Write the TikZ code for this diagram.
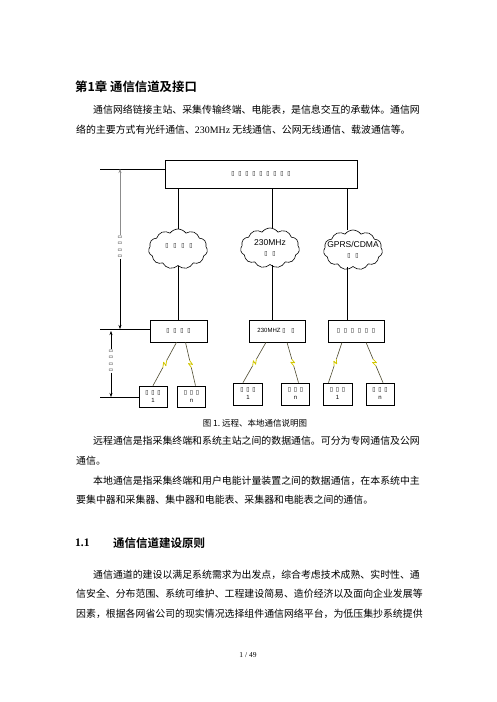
\documentclass[tikz,border=0pt]{standalone}
\usepackage{fontspec}
\setmainfont{Liberation Serif}
\newfontfamily\cjk{Noto Sans CJK SC}[BoldFont={Noto Sans CJK SC Bold}]
\newfontfamily\symfnt{DejaVu Sans}
\newfontfamily\arial{Liberation Sans}
\usetikzlibrary{shapes.symbols,arrows.meta,calc}

% a missing glyph, as the page prints it
\newcommand{\tofu}[1][7pt]{\makebox[#1]{\symfnt\fontsize{6}{6}\selectfont ▯}}
% radio link with a small bolt in the middle
\newcommand{\wlink}[2]{%
  \draw[link] (#1) -- ($(#1)!0.42!(#2)$);
  \draw[link] ($(#1)!0.58!(#2)$) -- (#2);
  \draw[bolt] ($(#1)!0.42!(#2)$) -- ($(#1)!0.52!(#2)!1.8pt!90:(#2)$) -- ($(#1)!0.48!(#2)!1.8pt!-90:(#2)$) -- ($(#1)!0.58!(#2)$);}

\begin{document}
\begin{tikzpicture}[x=1pt,y=-1pt,
  txt/.style={anchor=west,inner sep=0pt,font=\cjk\fontsize{9.9}{12}\selectfont},
  wire/.style={line width=0.7pt},
  box/.style={draw,line width=0.7pt,inner sep=0pt,align=center,font=\arial\fontsize{6}{8}\selectfont},
  net/.style={cloud,cloud puffs=11,cloud puff arc=110,aspect=1.5,draw,line width=0.6pt,minimum width=59pt,minimum height=40pt,inner sep=0pt},
  ctxt/.style={inner sep=0pt,align=center,font=\arial\fontsize{8.5}{10}\selectfont},
  link/.style={draw=black!60!olive,line width=0.6pt},
  bolt/.style={draw=yellow!60!olive,line width=0.8pt,line join=round},
  dim/.style={line width=0.5pt,-{Stealth[length=4pt,width=3pt]}},
  lab/.style={fill=white,inner sep=0.5pt,align=center,font=\symfnt\fontsize{5}{6.5}\selectfont}]
\useasboundingbox (0,0) rectangle (496,702);

% page text
\node[txt,font=\cjk\bfseries\fontsize{12.4}{14}\selectfont] (ttl) at (75,87) {第1章 通信信道及接口};
\node[txt] (p1a) at (93,110) {通信网络链接主站、采集传输终端、电能表，是信息交互的承载体。通信网};
\node[txt] (p1b) at (76,130) {络的主要方式有光纤通信、{\rmfamily 230MHz} 无线通信、公网无线通信、载波通信等。};
\node[txt,anchor=center,font=\cjk\fontsize{8.5}{10}\selectfont] (cap) at (255,423) {图 1.\ 远程、本地通信说明图};
\node[txt] (p2a) at (93,441) {远程通信是指采集终端和系统主站之间的数据通信。可分为专网通信及公网};
\node[txt] (p2b) at (76,461) {通信。};
\node[txt] (p3a) at (93,481) {本地通信是指采集终端和用户电能计量装置之间的数据通信，在本系统中主};
\node[txt] (p3b) at (76,500) {要集中器和采集器、集中器和电能表、采集器和电能表之间的通信。};
\node[txt,font=\rmfamily\bfseries\fontsize{11.5}{13}\selectfont] (secn) at (75,543) {1.1};
\node[txt,font=\cjk\bfseries\fontsize{11.5}{13}\selectfont] (sect) at (113,543) {通信信道建设原则};
\node[txt] (p4a) at (93,575) {通信通道的建设以满足系统需求为出发点，综合考虑技术成熟、实时性、通};
\node[txt] (p4b) at (76,594) {信安全、分布范围、系统可维护、工程建设简易、造价经济以及面向企业发展等};
\node[txt] (p4c) at (76,614) {因素，根据各网省公司的现实情况选择组件通信网络平台，为低压集抄系统提供};
\node[txt,anchor=center,font=\rmfamily\fontsize{7.5}{9}\selectfont] (pg) at (248,655) {1 / 49};

% diagram
\node[box,minimum width=192pt,minimum height=28pt] (zz) at (261,174) {\tofu\tofu\tofu\tofu\tofu\tofu\tofu\tofu\tofu};
\node[net] (c1) at (178,249) {};
\node[net] (c2) at (270,248) {};
\node[net] (c3) at (353,250) {};
\node[ctxt] (c1t) at (179,246) {\tofu[8pt]\tofu[8pt]\tofu[8pt]\tofu[8pt]};
\node[ctxt] (c2t) at (270,248) {230MHz\\\tofu[8pt]\tofu[8pt]};
\node[ctxt] (c3t) at (353,250) {GPRS/CDMA\\\tofu[8pt]\tofu[8pt]};
\node[box,minimum width=57pt,minimum height=22pt] (m1) at (178.5,331) {\tofu\tofu\tofu\tofu};
\node[box,minimum width=56pt,minimum height=22pt] (m2) at (277,331) {230MHZ\tofu\hspace{2pt}\tofu};
\node[box,minimum width=56pt,minimum height=22pt] (m3) at (356,331) {\tofu\tofu\tofu\tofu\tofu\tofu};
\node[box,minimum width=28pt,minimum height=21pt] (b1) at (153,396.5) {\tofu[6pt]\tofu[6pt]\tofu[6pt]\\1};
\node[box,minimum width=28pt,minimum height=21pt] (b2) at (191.5,396.5) {\tofu[6pt]\tofu[6pt]\tofu[6pt]\\n};
\node[box,minimum width=29pt,minimum height=22pt] (b3) at (248,394) {\tofu[6pt]\tofu[6pt]\tofu[6pt]\\1};
\node[box,minimum width=28pt,minimum height=22pt] (b4) at (295.5,394) {\tofu[6pt]\tofu[6pt]\tofu[6pt]\\n};
\node[box,minimum width=29pt,minimum height=22pt] (b5) at (337.5,394) {\tofu[6pt]\tofu[6pt]\tofu[6pt]\\1};
\node[box,minimum width=28pt,minimum height=22pt] (b6) at (380,394) {\tofu[6pt]\tofu[6pt]\tofu[6pt]\\n};

\coordinate (k1) at (178,0);
\coordinate (k2) at (272,0);
\coordinate (k3) at (347,0);
\draw[wire] (zz.south -| k1) -- (c1.north -| k1);
\draw[wire] (zz.south -| k2) -- (c2.north -| k2);
\draw[wire] (zz.south -| k3) -- (c3.north -| k3);
\draw[wire] (c1.south -| k1) -- (m1.north -| k1);
\draw[wire] (c2.south -| k2) -- (m2.north -| k2);
\draw[wire] (c3.south -| k3) -- (m3.north -| k3);

\coordinate (h1) at (100,169);
\coordinate (h2) at (100,329);
\coordinate (h3) at (100,397);
\draw[wire] (h1) -- (h1 -| zz.west);
\draw[wire] (h2) -- (h2 -| m1.west);
\draw[wire] (h3) -- (h3 -| b1.west);

\coordinate (v1t) at (120,169);
\coordinate (v1b) at (120,329);
\node[lab] (d1) at (120,247) {▭\\▭\\▭\\▭};
\draw[dim,black!45] (d1) -- (v1t);
\draw[dim] (d1) -- (v1b);
\coordinate (v2t) at (111,331);
\coordinate (v2b) at (111,397);
\node[lab] (d2) at (111,361) {▭\\▭\\▭\\▭};
\draw[dim] (d2) -- (v2t);
\draw[dim] (d2) -- (v2b);

\coordinate (l1a) at ($(m1.south)+(-2,0)$);
\coordinate (l1b) at (b1.north);
\coordinate (l2a) at ($(m1.south)+(7,0)$);
\coordinate (l2b) at ($(b2.north)+(4,0)$);
\coordinate (l3a) at ($(m2.south)+(-11,0)$);
\coordinate (l3b) at ($(b3.north)+(-5,0)$);
\coordinate (l4a) at ($(m2.south)+(10,0)$);
\coordinate (l4b) at ($(b4.north)+(3,0)$);
\coordinate (l5a) at ($(m3.south)+(-14,0)$);
\coordinate (l5b) at ($(b5.north)+(-9,0)$);
\coordinate (l6a) at ($(m3.south)+(10,0)$);
\coordinate (l6b) at ($(b6.north)+(3,0)$);
\wlink{l1a}{l1b}
\wlink{l2a}{l2b}
\wlink{l3a}{l3b}
\wlink{l4a}{l4b}
\wlink{l5a}{l5b}
\wlink{l6a}{l6b}

\end{tikzpicture}
\end{document}
